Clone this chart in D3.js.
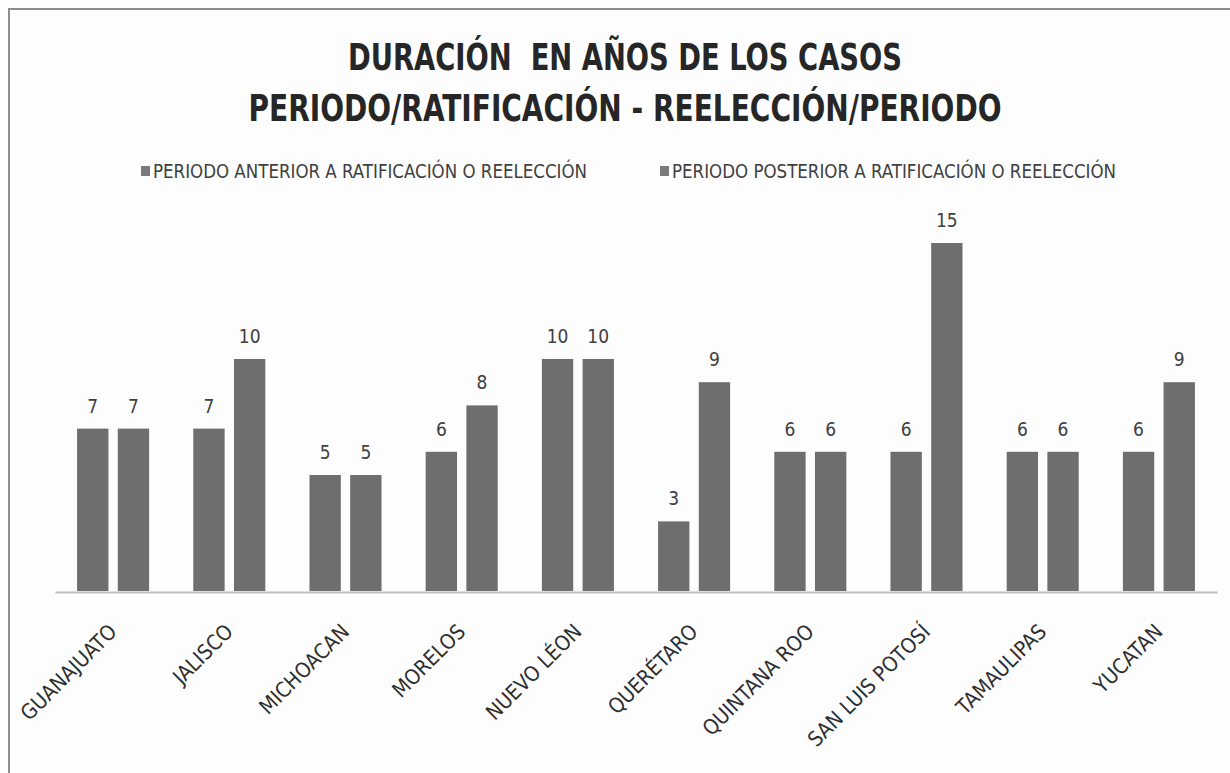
<!DOCTYPE html>
<html lang="es">
<head>
<meta charset="UTF-8">
<title>Duración en años de los casos</title>
<script src="https://d3js.org/d3.v7.min.js"></script>
<style>
  body { margin: 0; background: #fff; }
  text { font-family: "Liberation Sans Narrow", "DejaVu Sans Condensed", sans-serif; }
</style>
</head>
<body>
<svg width="1230" height="773"></svg>
<script>
// data
const estados = ["GUANAJUATO", "JALISCO", "MICHOACAN", "MORELOS", "NUEVO LÉON",
  "QUERÉTARO", "QUINTANA ROO", "SAN LUIS POTOSÍ", "TAMAULIPAS", "YUCATAN"];
const series = ["PERIODO ANTERIOR A RATIFICACIÓN O REELECCIÓN",
  "PERIODO POSTERIOR A RATIFICACIÓN O REELECCIÓN"];
const anterior = [7, 7, 5, 6, 10, 3, 6, 6, 6, 6];
const posterior = [7, 10, 5, 8, 10, 9, 6, 15, 6, 9];
const titulo = ["DURACIÓN  EN AÑOS DE LOS CASOS", "PERIODO/RATIFICACIÓN - REELECCIÓN/PERIODO"];

const svg = d3.select("svg");
const W = 1230, H = 773;

svg.append("rect").attr("width", W).attr("height", H).attr("fill", "#fdfdfd");
// chart frame
svg.append("rect")
  .attr("x", 9).attr("y", 9).attr("width", W + 20).attr("height", H + 20)
  .attr("fill", "none").attr("stroke", "#8c8c8c").attr("stroke-width", 2);

// title
svg.selectAll("text.title")
  .data(titulo)
  .join("text")
  .attr("class", "title")
  .attr("x", 625)
  .attr("y", (d, i) => 70 + i * 51)
  .attr("text-anchor", "middle")
  .attr("font-size", 38)
  .attr("font-weight", "bold")
  .attr("fill", "#262626")
  .style("white-space", "pre")
  .attr("textLength", (d, i) => i === 0 ? 554 : 753)
  .attr("lengthAdjust", "spacingAndGlyphs")
  .text(d => d);

// legend
const leg = svg.selectAll("g.leg")
  .data(series)
  .join("g")
  .attr("class", "leg")
  .attr("transform", (d, i) => `translate(${i === 0 ? 141 : 660},0)`);
leg.append("rect")
  .attr("x", 0).attr("y", 166).attr("width", 9).attr("height", 10)
  .attr("fill", "#7a7a7a");
leg.append("text")
  .attr("x", 12).attr("y", 178)
  .attr("font-size", 19)
  .attr("fill", "#404040")
  .attr("textLength", (d, i) => i === 0 ? 434 : 444)
  .attr("lengthAdjust", "spacingAndGlyphs")
  .text(d => d);

// scales
const x0 = d3.scaleBand().domain(estados).range([55, 1217])
  .paddingInner(0.38).paddingOuter(0.19);
const x1 = d3.scaleBand().domain([0, 1]).range([0, x0.bandwidth()])
  .paddingInner(0.23);
const y = d3.scaleLinear().domain([0, 15]).range([591, 243]);

const rows = estados.map((e, i) => ({ estado: e, vals: [anterior[i], posterior[i]] }));

const grp = svg.append("g").selectAll("g")
  .data(rows)
  .join("g")
  .attr("transform", d => `translate(${x0(d.estado)},0)`);

grp.selectAll("rect")
  .data(d => d.vals)
  .join("rect")
  .attr("x", (d, i) => x1(i))
  .attr("y", d => y(d))
  .attr("width", x1.bandwidth())
  .attr("height", d => y(0) - y(d))
  .attr("fill", "#6e6e6e");

grp.selectAll("text")
  .data(d => d.vals)
  .join("text")
  .attr("x", (d, i) => x1(i) + x1.bandwidth() / 2)
  .attr("y", d => y(d) - 16)
  .attr("text-anchor", "middle")
  .attr("font-size", 19)
  .attr("fill", "#404040")
  .text(d => d);

// x axis
const xAxis = svg.append("g")
  .attr("transform", `translate(0,${y(0) + 1})`)
  .call(d3.axisBottom(x0).tickSize(0).tickPadding(0));
xAxis.select(".domain").attr("stroke", "#c0c0c0").attr("stroke-width", 2);
xAxis.selectAll(".tick text")
  .attr("font-size", 21)
  .attr("fill", "#2e2e2e")
  .attr("text-anchor", "end")
  .attr("dy", 0)
  .attr("transform", "translate(5,41) rotate(-45)");
</script>
</body>
</html>
